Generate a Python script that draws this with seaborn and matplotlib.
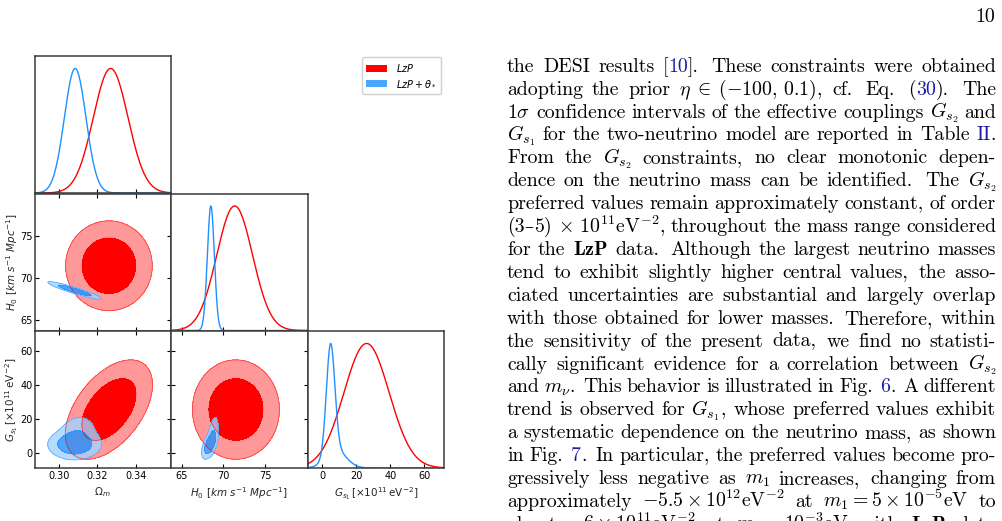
import re
import numpy as np
import pandas as pd
import matplotlib
matplotlib.use("Agg")
import matplotlib.pyplot as plt
from matplotlib.patches import Patch
import seaborn as sns

# ---------------- data ----------------
par_labels = [r"$\Omega_m$",
              r"$H_0\ [km\ s^{-1}\ Mpc^{-1}]$",
              r"$G_{s_1}\,[\times10^{11}\,\mathrm{eV}^{-2}]$"]
par_limits = [(0.2874, 0.3582), (63.7, 80.1), (-8.8, 71.6)]
par_ticks = [[0.30, 0.32, 0.34], [65, 70, 75], [0, 20, 40, 60]]
par_ticklabels = [["0.30", "0.32", "0.34"], ["65", "70", "75"], ["0", "20", "40", "60"]]
series_names = [r"$LzP$", r"$LzP+\theta_*$"]

# 1D marginal components: (amplitude, mean, sigma)
lzp_1d_Om = [(1.0, 0.3269, 0.0090)]
lzp_1d_H0 = [(1.0, 71.35, 2.15)]
lzp_1d_G = [(1.0, 26.0, 13.3)]
theta_1d_Om = [(1.0, 0.3085, 0.0056)]
theta_1d_H0 = [(1.0, 68.49, 0.42)]
theta_1d_G = [(0.877, 4.8, 2.5), (0.14, 8.0, 6.0)]

# 2D components: (amplitude, mean_x, mean_y, sd_x, sd_y, rho)
lzp_2d_Om_H0 = [(1.0, 0.326, 71.45, 0.0092, 2.2, 0.0)]
lzp_2d_Om_G = [(1.0, 0.326, 25.5, 0.0093, 12.0, 0.5)]
lzp_2d_H0_G = [(1.0, 71.5, 25.5, 2.15, 12.0, 0.0)]
theta_2d_Om_H0 = [(1.0, 0.3083, 68.49, 0.0057, 0.43, -0.93)]
theta_2d_Om_G = [(1.0, 0.3082, 5.0, 0.0057, 3.6, 0.0), (0.30, 0.3095, 10.5, 0.0048, 5.5, 0.15)]
theta_2d_H0_G = [(1.0, 68.35, 5.0, 0.40, 3.5, 0.55), (0.30, 68.75, 10.5, 0.32, 5.5, 0.45)]

body_lines = [
    "the DESI results [@10@].  These constraints were obtained",
    r"adopting the prior $\eta\;\in\;(-100,\,0.1)$, cf.  Eq. (@30@).  The",
    r"$1\sigma$ confidence intervals of the effective couplings $G_{s_2}$ and",
    r"$G_{s_1}$ for the two-neutrino model are reported in Table @II@.",
    r"From the $G_{s_2}$ constraints, no clear monotonic depen-",
    r"dence on the neutrino mass can be identified. The $G_{s_2}$",
    "preferred values remain approximately constant, of order",
    r"(3–5)$\,\times\,10^{11}$eV$^{-2}$, throughout the mass range considered",
    r"for the $\mathbf{LzP}$ data. Although the largest neutrino masses",
    "tend to exhibit slightly higher central values, the asso-",
    "ciated uncertainties are substantial and largely overlap",
    "with those obtained for lower masses. Therefore, within",
    "the sensitivity of the present data, we find no statisti-",
    r"cally significant evidence for a correlation between $G_{s_2}$",
    r"and $m_\nu$. This behavior is illustrated in Fig. @6@. A different",
    r"trend is observed for $G_{s_1}$, whose preferred values exhibit",
    "a systematic dependence on the neutrino mass, as shown",
    "in Fig. @7@. In particular, the preferred values become pro-",
    r"gressively less negative as $m_1$ increases, changing from",
    r"approximately $-5.5\times10^{12}$eV$^{-2}$ at $m_1 = 5\times10^{-5}$eV to",
    r"about $-6\times10^{11}$eV$^{-2}$ at $m_1 = 10^{-3}$eV with $\mathbf{LzP}$ data",
]
page_number = "10"

# ---------------- style ----------------
sns.set_theme(style="white")
plt.rcParams["font.family"] = ["DejaVu Sans"]
plt.rcParams["mathtext.fontset"] = "dejavusans"
plt.rcParams["axes.edgecolor"] = "#3a3a3a"
plt.rcParams["text.color"] = "black"
plt.rcParams["xtick.color"] = "black"
plt.rcParams["ytick.color"] = "black"

RED = "#ff0000"
RED_PALE = "#ff9999"
BLUE = "#1e90ff"
BLUE_PALE = "#a5d3ff"
LINK = "#1c1c9c"

W, H = 1002, 521
fig = plt.figure(figsize=(W / 100, H / 100), dpi=100)
fig.patch.set_facecolor("white")

col_x = [34.5, 171.0, 307.5]
col_w = 136.5
row_y = [56.0, 193.5, 331.0]
row_h = 137.0


def add_ax(r, c):
    return fig.add_axes([col_x[c] / W, 1 - (row_y[r] + row_h) / H, col_w / W, row_h / H])


def mix1d(x, comps):
    y = np.zeros_like(x)
    for a, m, s in comps:
        y += a * np.exp(-0.5 * ((x - m) / s) ** 2)
    return y / y.max()


def mix2d(X, Y, comps):
    Z = np.zeros_like(X)
    for a, mx, my, sx, sy, r in comps:
        u = (X - mx) / sx
        v = (Y - my) / sy
        Z += a * np.exp(-(u * u - 2 * r * u * v + v * v) / (2 * (1 - r * r)))
    return Z


def hpd_levels(Z, masses=(0.95, 0.68)):
    z = np.sort(Z.ravel())[::-1]
    c = np.cumsum(z)
    c /= c[-1]
    return [z[min(np.searchsorted(c, m), len(z) - 1)] for m in masses]


one_d = {0: (lzp_1d_Om, theta_1d_Om), 1: (lzp_1d_H0, theta_1d_H0), 2: (lzp_1d_G, theta_1d_G)}
two_d = {(1, 0): (lzp_2d_Om_H0, theta_2d_Om_H0),
         (2, 0): (lzp_2d_Om_G, theta_2d_Om_G),
         (2, 1): (lzp_2d_H0_G, theta_2d_H0_G)}

TICK_FS = 7.0
LABEL_FS = 7.5

for r in range(3):
    for c in range(r + 1):
        ax = add_ax(r, c)
        ax.set_facecolor("white")
        for sp in ax.spines.values():
            sp.set_linewidth(1.1)
            sp.set_color("#3a3a3a")
        xlim = par_limits[c]
        if r == c:
            grid = np.linspace(xlim[0], xlim[1], 600)
            for comps, col in zip(one_d[c], (RED, BLUE)):
                df = pd.DataFrame({"x": grid, "p": mix1d(grid, comps)})
                sns.lineplot(data=df, x="x", y="p", ax=ax, color=col, lw=1.0,
                             estimator=None, sort=False, legend=False)
            ax.set_ylim(0, 1.1)
            ax.set_yticks([])
            ax.tick_params(axis="x", direction="in", length=3, width=0.8,
                           bottom=True, top=False, labelsize=TICK_FS, pad=2.5)
        else:
            ylim = par_limits[r]
            gx = np.linspace(xlim[0], xlim[1], 320)
            gy = np.linspace(ylim[0], ylim[1], 320)
            X, Y = np.meshgrid(gx, gy)
            for comps, col, pale, alpha in zip(two_d[(r, c)], (RED, BLUE), (RED_PALE, BLUE_PALE), (1.0, 0.8)):
                Z = mix2d(X, Y, comps)
                t95, t68 = hpd_levels(Z)
                ax.contourf(X, Y, Z, levels=[t95, t68, Z.max() * 1.01],
                            colors=[pale, col], alpha=alpha)
                ax.contour(X, Y, Z, levels=[t95, t68], colors=[col],
                           linewidths=0.6, alpha=0.6)
            ax.set_ylim(ylim)
            ax.set_yticks(par_ticks[r])
            ax.tick_params(axis="both", direction="in", length=3, width=0.8,
                           bottom=True, top=True, left=True, right=True,
                           labelsize=TICK_FS)
            ax.tick_params(axis="x", pad=2.5)
            ax.tick_params(axis="y", pad=1.5)
        ax.set_xlim(xlim)
        ax.set_xticks(par_ticks[c])
        ax.set_xlabel("")
        ax.set_ylabel("")
        if r == 2:
            ax.set_xticklabels(par_ticklabels[c])
            ax.set_xlabel(par_labels[c], fontsize=LABEL_FS)
            ax.xaxis.set_label_coords(0.5, -0.125)
        else:
            ax.set_xticklabels([])
        if c == 0 and r > 0:
            ax.set_yticklabels(par_ticklabels[r])
            ax.set_ylabel(par_labels[r], fontsize=LABEL_FS)
            ax.yaxis.set_label_coords(-0.103, 0.5)
        elif r != c:
            ax.set_yticklabels([])

# legend
handles = [Patch(facecolor=RED, edgecolor="none"), Patch(facecolor=BLUE, edgecolor="none", alpha=0.8)]
fig.legend(handles, series_names, loc="upper left",
           bbox_to_anchor=(361.7 / W, 1 - 57.3 / H), borderaxespad=0,
           fontsize=7, handlelength=2.2, handleheight=0.75, handletextpad=0.9,
           labelspacing=0.55, borderpad=0.45, frameon=True, fancybox=True,
           edgecolor="#d0d0d0", framealpha=1.0)

# ---------------- text column ----------------
TXT_L, TXT_R = 507.0, 996.0
BASE0, LEAD = 71.8, 22.9
FS = 14.3
renderer = fig.canvas.get_renderer()


def split_words(line):
    words, cur, inmath = [], "", False
    for ch in line:
        if ch == "$":
            inmath = not inmath
        if ch == " " and not inmath:
            if cur:
                words.append(cur)
                cur = ""
        else:
            cur += ch
    if cur:
        words.append(cur)
    return words


def make_text(s, color):
    fam = ["DejaVu Serif"] if s == "–" else ["cmr10", "DejaVu Serif"]
    return fig.text(0, 0, s, fontsize=FS if s != "–" else FS * 0.9, family=fam,
                    math_fontfamily="cm", color=color, va="baseline", ha="left")


for i, line in enumerate(body_lines):
    yb = 1 - (BASE0 + i * LEAD) / H
    words = split_words(line)
    word_items = []
    for w in words:
        segs = w.split("@")
        items = []
        for k, s in enumerate(segs):
            if not s:
                continue
            for piece in re.split("(–)", s):
                if not piece:
                    continue
                t = make_text(piece, LINK if k % 2 else "black")
                wpx = t.get_window_extent(renderer).width
                items.append((t, wpx))
        word_items.append((w, items, sum(wp for _, wp in items)))
    total = sum(wi[2] for wi in word_items)
    weights = []
    for w, _, _ in word_items[:-1]:
        weights.append(1.5 if w.endswith(".") else (1.15 if w.endswith(",") else 1.0))
    space = (TXT_R - TXT_L - total) / max(sum(weights), 1)
    x = TXT_L
    for j, (w, items, wtot) in enumerate(word_items):
        xx = x
        for t, wpx in items:
            t.set_position((xx / W, yb))
            xx += wpx
        x += wtot
        if j < len(weights):
            x += space * weights[j]

fig.text(995 / W, 1 - 21.5 / H, page_number, fontsize=FS, family=["cmr10", "DejaVu Serif"],
         ha="right", va="baseline", color="black")

fig.savefig("out.png", dpi=100, facecolor="white")
